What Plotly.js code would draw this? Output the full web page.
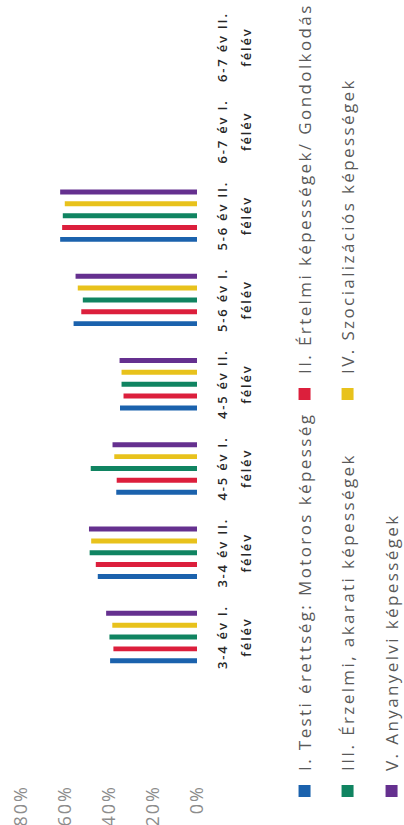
<!DOCTYPE html>
<html><head><meta charset="utf-8">
<script src="https://cdn.plot.ly/plotly-3.0.1.min.js"></script>
<style>
html,body{margin:0;padding:0;background:#fff;overflow:hidden;width:404px;height:825px;}
#chart{position:absolute;left:0;top:0;width:825px;height:404px;transform-origin:0 0;transform:translate(0px,825px) rotate(-90deg);}
</style></head><body><div id="chart"></div>
<script>
// Categories (age group / semester)
const categories = ["3-4 év I. félév","3-4 év II. félév","4-5 év I. félév","4-5 év II. félév","5-6 év I. félév","5-6 év II. félév","6-7 év I. félév","6-7 év II. félév"];
const tickLine1 = ["3-4 év I.","3-4 év II.","4-5 év I.","4-5 év II.","5-6 év I.","5-6 év II.","6-7 év I.","6-7 év II."];
const tickLine2 = "félév";
const yTicks = [0,20,40,60,80];
const yTickText = ["0%","20%","40%","60%","80%"];

const seriesNames = [
  "I. Testi érettség: Motoros képesség",
  "II. Értelmi képességek/ Gondolkodás",
  "III. Érzelmi, akarati képességek",
  "IV. Szocializációs képességek",
  "V. Anyanyelvi képességek"
];
// values in %
const seriesI   = [39.5, 45.1, 36.7, 35.0, 56.1, 62.2, null, null];
const seriesII  = [38.0, 46.0, 36.5, 33.4, 52.6, 61.3, null, null];
const seriesIII = [39.8, 48.8, 48.3, 34.3, 51.9, 61.0, null, null];
const seriesIV  = [38.5, 48.1, 37.6, 34.3, 54.2, 60.1, null, null];
const seriesV   = [41.3, 49.1, 38.4, 35.2, 55.2, 62.2, null, null];
const seriesValues = [seriesI, seriesII, seriesIII, seriesIV, seriesV];

const colors = ["#1b62ad","#dc1f3c","#108461","#e8c21c","#65308f"];
const legendIds = ["legend","legend2","legend3","legend4","legend5"];

const traces = seriesValues.map((vals, i) => ({
  type: "bar",
  x: categories,
  y: vals,
  name: '<span style="letter-spacing:2.4px">' + seriesNames[i] + '</span>',
  marker: {color: colors[i]},
  legend: legendIds[i],
  hovertemplate: "%{x}: %{y}%<extra>" + seriesNames[i] + "</extra>"
}));

const tickText = tickLine1.map(t => '<span style="font-size:13px;letter-spacing:1.8px">' + t + '<br>' + tickLine2 + '</span>');
const yTickLabels = yTickText.map(t => '<span style="letter-spacing:2px">' + t + '</span>');

function legendCfg(x, y) {
  return {
    orientation: "h", x: x, xanchor: "left", y: y, yanchor: "middle",
    font: {family: "Open Sans", size: 17, color: "#595959"},
    bgcolor: "rgba(0,0,0,0)", traceorder: "normal"
  };
}
const colX = [-0.0413, 0.4716];
const rowY = [-0.6136, -0.858, -1.108];

const layout = {
  width: 825, height: 404,
  margin: {l: 46, r: 5, t: 21, b: 207, autoexpand: false},
  paper_bgcolor: "#ffffff", plot_bgcolor: "#ffffff",
  font: {family: "Open Sans", color: "#333"},
  barmode: "group", bargap: 0.297, bargroupgap: 0.58,
  showlegend: true,
  xaxis: {
    domain: [0.129, 1],
    type: "category",
    tickvals: categories, ticktext: tickText,
    tickfont: {family: "Open Sans", size: 18.5, color: "#262626", weight: 600},
    ticklabelstandoff: 10,
    showgrid: false, zeroline: false, showline: false, ticks: ""
  },
  yaxis: {
    range: [0, 80], tickvals: yTicks, ticktext: yTickLabels,
    anchor: "free", position: 0,
    ticklabelstandoff: 6,
    tickfont: {family: "Open Sans", size: 18, color: "#8c8c8c"},
    showgrid: false, zeroline: false, showline: false, ticks: ""
  },
  legend:  legendCfg(colX[0], rowY[0]),
  legend2: legendCfg(colX[1], rowY[0]),
  legend3: legendCfg(colX[0], rowY[1]),
  legend4: legendCfg(colX[1], rowY[1]),
  legend5: legendCfg(colX[0], rowY[2])
};

Plotly.newPlot("chart", traces, layout, {displayModeBar: false, staticPlot: true});
</script>
</body></html>
